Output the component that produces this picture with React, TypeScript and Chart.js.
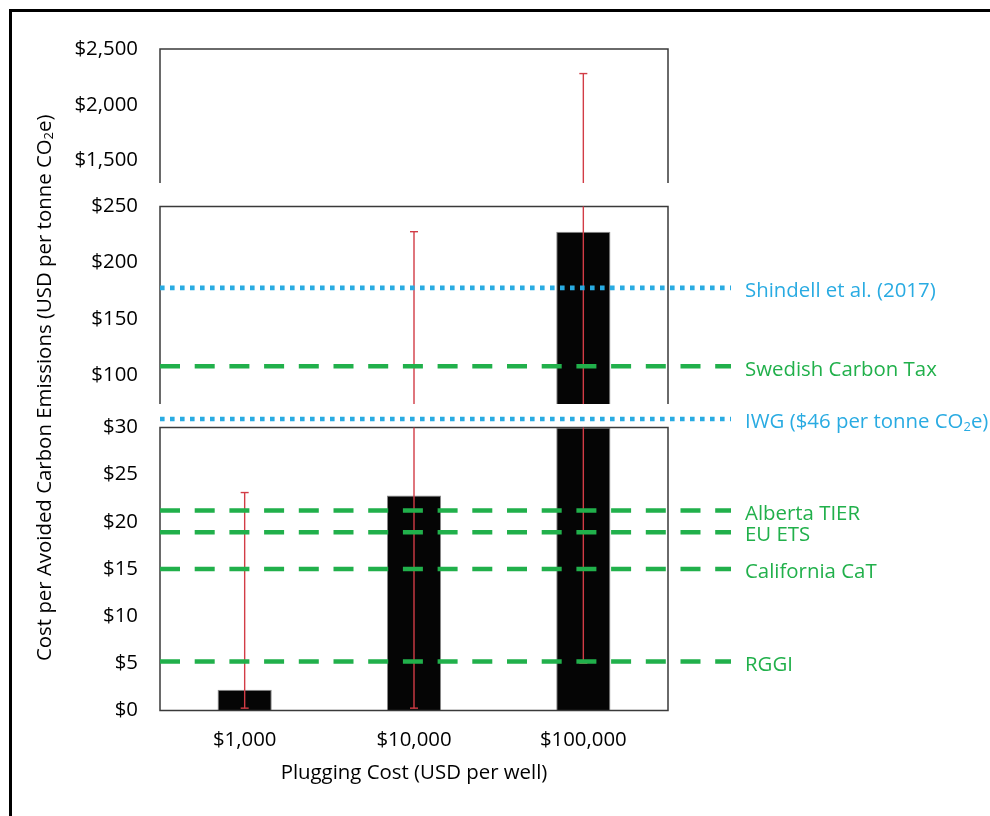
import React, { useEffect, useRef } from 'react';
import { Chart, registerables } from 'chart.js';

Chart.register(...registerables);

// ---- data ----
const categories = ['$1,000', '$10,000', '$100,000'];
const barValues = [2.2, 22.8, 227.5];
const errorLow = [0.25, 0.25, 5.0];
const errorHigh = [23.1, 227.5, 2280];

const lowTicks = [0, 5, 10, 15, 20, 25, 30];
const midTicks = [100, 150, 200, 250];
const topTicks = [1500, 2000, 2500];

const lowRange = [0, 30];
const midRange = [74, 250];
const topRange = [1300, 2500];

const refLabels = [
  'Shindell et al. (2017)',
  'Swedish Carbon Tax',
  'IWG ($46 per tonne CO₂e)',
  'Alberta TIER',
  'EU ETS',
  'California CaT',
  'RGGI',
];
const refValues = [177.5, 107.6, 46, 21.2, 18.9, 15.0, 5.2];
const refKinds = ['dotted', 'dashed', 'dotted', 'dashed', 'dashed', 'dashed', 'dashed'];

const yTitle = 'Cost per Avoided Carbon Emissions (USD per tonne CO₂e)';
const xTitle = 'Plugging Cost (USD per well)';

// ---- styles ----
const FONT = "'Open Sans', 'DejaVu Sans', sans-serif";
const TEXT_SIZE = 20.4;
const GREEN = '#21b04b';
const BLUE = '#29abe2';
const RED = '#d23c46';

function fmtDollar(v: number) {
  return '$' + Number(v).toLocaleString('en-US');
}

function drawRich(ctx: CanvasRenderingContext2D, text: string, x: number, y: number, size: number, align: 'left' | 'center') {
  const parts = text.split('₂');
  const mainFont = `${size}px ${FONT}`;
  const subFont = `${Math.round(size * 0.65)}px ${FONT}`;
  const widths: number[] = [];
  let total = 0;
  parts.forEach((p, i) => {
    ctx.font = mainFont;
    const w = ctx.measureText(p).width;
    widths.push(w);
    total += w;
    if (i < parts.length - 1) {
      ctx.font = subFont;
      total += ctx.measureText('2').width;
    }
  });
  let cx = align === 'center' ? x - total / 2 : x;
  ctx.textAlign = 'left';
  ctx.textBaseline = 'middle';
  parts.forEach((p, i) => {
    ctx.font = mainFont;
    ctx.fillText(p, cx, y);
    cx += widths[i];
    if (i < parts.length - 1) {
      ctx.font = subFont;
      ctx.fillText('2', cx, y + size * 0.22);
      cx += ctx.measureText('2').width;
    }
  });
}

const brokenAxisPlugin = {
  id: 'brokenAxis',
  afterDatasetsDraw(chart: any) {
    const ctx: CanvasRenderingContext2D = chart.ctx;
    const { left, right, top, bottom } = chart.chartArea;
    const panels = ['yLow', 'yMid', 'yTop'].map((id) => chart.scales[id]);
    const xs = chart.scales.x;

    const valueToPixel = (v: number) => {
      for (const s of panels) {
        if (v >= s.min && v <= s.max) return s.getPixelForValue(v);
      }
      for (let i = 0; i < panels.length - 1; i++) {
        const lo = panels[i];
        const hi = panels[i + 1];
        if (v > lo.max && v < hi.min) {
          const t = (v - lo.max) / (hi.min - lo.max);
          return lo.top + t * (hi.bottom - lo.top);
        }
      }
      return NaN;
    };

    ctx.save();
    // panel frames
    ctx.strokeStyle = '#3a3a3a';
    ctx.lineWidth = 1.5;
    panels.forEach((s, i) => {
      ctx.beginPath();
      ctx.moveTo(left, s.bottom);
      ctx.lineTo(left, s.top);
      ctx.lineTo(right, s.top);
      ctx.lineTo(right, s.bottom);
      if (i === 0) ctx.closePath();
      ctx.stroke();
    });

    // error bars
    ctx.strokeStyle = RED;
    ctx.lineWidth = 1.4;
    categories.forEach((_, i) => {
      const px = xs.getPixelForValue(i);
      const lo = errorLow[i];
      const hi = errorHigh[i];
      panels.forEach((s) => {
        const a = Math.max(lo, s.min);
        const b = Math.min(hi, s.max);
        if (b <= a) return;
        ctx.beginPath();
        ctx.moveTo(px, s.getPixelForValue(a));
        ctx.lineTo(px, s.getPixelForValue(b));
        ctx.stroke();
        [lo, hi].forEach((v) => {
          if (v >= s.min && v <= s.max) {
            const py = s.getPixelForValue(v);
            ctx.beginPath();
            ctx.moveTo(px - 4, py);
            ctx.lineTo(px + 4, py);
            ctx.stroke();
          }
        });
      });
    });

    // reference lines + labels
    const lineEnd = right + 63;
    const labelX = right + 77;
    refValues.forEach((v, i) => {
      const py = valueToPixel(v);
      const dotted = refKinds[i] === 'dotted';
      const color = dotted ? BLUE : GREEN;
      ctx.strokeStyle = color;
      ctx.lineWidth = 4.6;
      ctx.lineCap = 'butt';
      ctx.setLineDash(dotted ? [4.6, 5.4] : [20, 14.7]);
      ctx.beginPath();
      ctx.moveTo(left, py);
      ctx.lineTo(lineEnd, py);
      ctx.stroke();
      ctx.setLineDash([]);
      ctx.fillStyle = color;
      drawRich(ctx, refLabels[i], labelX, py + 3.5, TEXT_SIZE, 'left');
    });

    // y axis title
    ctx.fillStyle = '#000';
    ctx.translate(45, (top + bottom) / 2 + 8);
    ctx.rotate(-Math.PI / 2);
    drawRich(ctx, yTitle, 0, 0, TEXT_SIZE, 'center');
    ctx.restore();
  },
};

export default function App() {
  const canvasRef = useRef<HTMLCanvasElement | null>(null);

  useEffect(() => {
    const canvas = canvasRef.current;
    if (!canvas) return;
    const tickFont = { family: FONT, size: TEXT_SIZE };
    const yCommon = (range: number[], ticks: number[], weight: number) => ({
      type: 'linear',
      position: 'left',
      stack: 'y',
      stackWeight: weight,
      min: range[0],
      max: range[1],
      grid: { display: false, drawTicks: false },
      border: { display: false },
      ticks: {
        font: tickFont,
        color: '#000',
        padding: 22,
        autoSkip: false,
        callback: (v: number) => fmtDollar(v),
      },
      afterBuildTicks: (s: any) => {
        s.ticks = ticks.map((value) => ({ value }));
      },
      afterFit: (s: any) => {
        s.width = 100;
      },
    });
    const gapAxis = (weight: number) => ({
      type: 'linear',
      position: 'left',
      stack: 'y',
      stackWeight: weight,
      display: false,
      min: 0,
      max: 1,
    });
    const panelDefs = [
      { id: 'yLow', range: lowRange },
      { id: 'yMid', range: midRange },
      { id: 'yTop', range: topRange },
    ];

    const chart = new Chart(canvas, {
      type: 'bar',
      data: {
        labels: categories,
        datasets: panelDefs.map((p) => ({
          label: p.id,
          yAxisID: p.id,
          xAxisID: 'x',
          grouped: false,
          data: barValues.map((v) => (v > p.range[0] ? [p.range[0], Math.min(v, p.range[1])] : null)),
          backgroundColor: '#050505',
          borderColor: '#8a8a8a',
          borderWidth: 1,
          borderSkipped: 'start',
          categoryPercentage: 1,
          barPercentage: 0.32,
        })) as any,
      },
      options: {
        responsive: false,
        animation: false,
        layout: { padding: { left: 60, top: 49, right: 322, bottom: 0 } },
        plugins: { legend: { display: false }, tooltip: { enabled: false } },
        scales: {
          x: {
            type: 'category',
            position: 'bottom',
            grid: { display: false, drawTicks: false },
            border: { display: false },
            ticks: { font: tickFont, color: '#000', padding: 17.5, autoSkip: false, maxRotation: 0 },
            title: {
              display: true,
              text: xTitle,
              font: tickFont,
              color: '#000',
              padding: { top: 0, bottom: 31 },
            },
            afterFit: (s: any) => {
              s.height = 105.5;
            },
          },
          yLow: yCommon(lowRange, lowTicks, 283),
          gap1: gapAxis(23.4),
          yMid: yCommon(midRange, midTicks, 197.6),
          gap2: gapAxis(23.4),
          yTop: yCommon(topRange, topTicks, 134),
        } as any,
      },
      plugins: [brokenAxisPlugin],
    });
    return () => chart.destroy();
  }, []);

  return (
    <div style={{ position: 'absolute', left: 0, top: 0, width: 990, height: 816, background: '#fff', overflow: 'hidden' }}>
      <div
        style={{
          position: 'absolute',
          left: 9,
          top: 9,
          right: 0,
          bottom: 0,
          borderLeft: '3px solid #000',
          borderTop: '3px solid #000',
        }}
      />
      <canvas ref={canvasRef} width={990} height={816} style={{ position: 'absolute', left: 0, top: 0 }} />
    </div>
  );
}
